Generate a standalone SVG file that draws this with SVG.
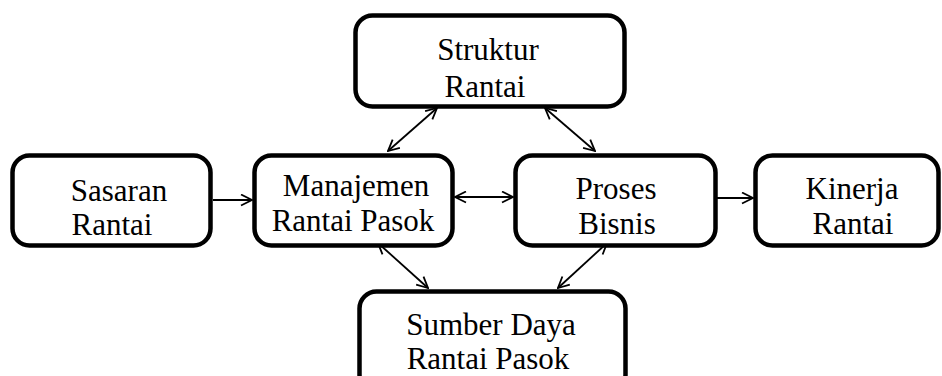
<svg xmlns="http://www.w3.org/2000/svg" width="942" height="376" viewBox="0 0 942 376">
<style>
.box{fill:#fff;stroke:#000;stroke-width:4.5}
.t{font-family:"Liberation Serif","Times New Roman",serif;font-size:31px;fill:#000;text-anchor:middle}
.c{stroke:#000;stroke-width:1.8;fill:none}
</style>
<defs>
<marker id="ah" viewBox="0 0 13 13" refX="12" refY="6.5" markerWidth="13" markerHeight="13" markerUnits="userSpaceOnUse" orient="auto-start-reverse">
<path d="M1,1 L12,6.5 L1,12" fill="none" stroke="#000" stroke-width="1.8"/>
</marker>
</defs>
<rect width="942" height="376" fill="#fff"/>
<g id="connectors">
<line class="c" x1="213" y1="200" x2="252" y2="200" marker-end="url(#ah)"/>
<line class="c" x1="455" y1="197" x2="513" y2="197" marker-start="url(#ah)" marker-end="url(#ah)"/>
<line class="c" x1="717" y1="198" x2="753" y2="198" marker-end="url(#ah)"/>
<line class="c" x1="437" y1="108" x2="388" y2="151" marker-start="url(#ah)" marker-end="url(#ah)"/>
<line class="c" x1="545" y1="108" x2="595" y2="151" marker-start="url(#ah)" marker-end="url(#ah)"/>
<line class="c" x1="378" y1="243" x2="428" y2="288" marker-start="url(#ah)" marker-end="url(#ah)"/>
<line class="c" x1="607" y1="243" x2="558" y2="288" marker-start="url(#ah)" marker-end="url(#ah)"/>
</g>
<g id="struktur">
<rect class="box" x="355.5" y="15.5" width="269" height="91" rx="17"/>
<text class="t" x="488" y="60">Struktur</text>
<text class="t" x="485" y="97">Rantai</text>
</g>
<g id="sasaran">
<rect class="box" x="12.5" y="155.5" width="198" height="90" rx="17"/>
<text class="t" x="119" y="201">Sasaran</text>
<text class="t" x="112" y="235">Rantai</text>
</g>
<g id="manajemen">
<rect class="box" x="254.5" y="155.5" width="198" height="90" rx="17"/>
<text class="t" x="356" y="196">Manajemen</text>
<text class="t" x="353" y="231">Rantai Pasok</text>
</g>
<g id="proses">
<rect class="box" x="515.5" y="155.5" width="200" height="90" rx="17"/>
<text class="t" x="616" y="199">Proses</text>
<text class="t" x="617" y="234">Bisnis</text>
</g>
<g id="kinerja">
<rect class="box" x="755.5" y="155.5" width="183" height="90" rx="17"/>
<text class="t" x="852" y="199">Kinerja</text>
<text class="t" x="853" y="234">Rantai</text>
</g>
<g id="sumber">
<rect class="box" x="359.5" y="291.5" width="266" height="100" rx="17"/>
<text class="t" x="491" y="335">Sumber Daya</text>
<text class="t" x="488" y="369">Rantai Pasok</text>
</g>
</svg>
